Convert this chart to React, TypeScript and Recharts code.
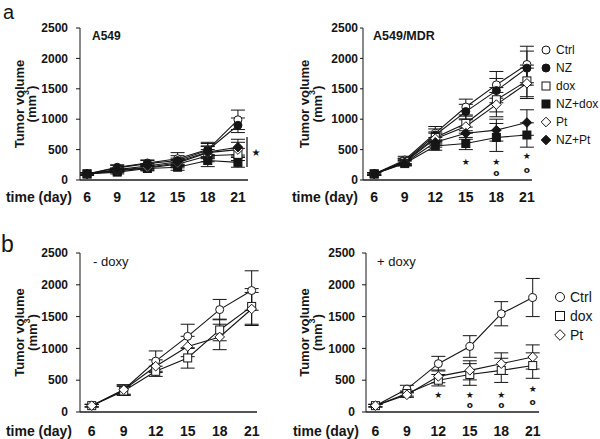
import { ComposedChart, Line, XAxis, YAxis, ErrorBar, Legend, ReferenceLine } from 'recharts'

const DAYS = [6, 9, 12, 15, 18, 21]
const Y_TICKS = [0, 500, 1000, 1500, 2000, 2500]

// a, A549
const a549Ctrl = [100, 210, 280, 350, 500, 990]
const a549CtrlErr = [20, 40, 50, 100, 120, 160]
const a549NZ = [100, 200, 270, 320, 490, 900]
const a549NZErr = [20, 40, 50, 80, 110, 120]
const a549Dox = [100, 150, 200, 260, 400, 420]
const a549DoxErr = [20, 30, 40, 60, 100, 100]
const a549NZDox = [100, 130, 190, 210, 320, 290]
const a549NZDoxErr = [20, 30, 40, 50, 100, 80]
const a549Pt = [100, 160, 210, 280, 450, 500]
const a549PtErr = [20, 30, 40, 60, 100, 120]
const a549NZPt = [100, 170, 230, 300, 460, 540]
const a549NZPtErr = [20, 30, 40, 60, 100, 130]

// a, A549/MDR
const mdrCtrl = [100, 330, 770, 1200, 1565, 1900]
const mdrCtrlErr = [20, 60, 110, 130, 220, 300]
const mdrNZ = [100, 310, 740, 1125, 1470, 1840]
const mdrNZErr = [20, 50, 100, 120, 200, 280]
const mdrDox = [100, 300, 700, 930, 1320, 1630]
const mdrDoxErr = [20, 50, 90, 120, 200, 260]
const mdrNZDox = [100, 270, 560, 600, 700, 740]
const mdrNZDoxErr = [20, 40, 70, 100, 230, 200]
const mdrPt = [100, 290, 680, 880, 1240, 1590]
const mdrPtErr = [20, 50, 90, 110, 200, 250]
const mdrNZPt = [100, 280, 620, 770, 820, 945]
const mdrNZPtErr = [20, 40, 80, 100, 180, 210]
const mdrStar = [null, null, null, 296, 296, 395]
const mdrCirc = [null, null, null, null, 110, 160]

// b, - doxy
const minusCtrl = [100, 350, 800, 1190, 1610, 1910]
const minusCtrlErr = [20, 80, 160, 190, 160, 310]
const minusDox = [100, 330, 640, 850, 1290, 1660]
const minusDoxErr = [20, 70, 80, 160, 170, 280]
const minusPt = [100, 350, 720, 1030, 1180, 1620]
const minusPtErr = [20, 70, 100, 160, 200, 260]

// b, + doxy
const plusCtrl = [100, 360, 760, 1030, 1545, 1800]
const plusCtrlErr = [20, 60, 115, 170, 190, 300]
const plusDox = [100, 290, 500, 590, 655, 730]
const plusDoxErr = [20, 40, 90, 170, 190, 200]
const plusPt = [100, 270, 560, 655, 760, 865]
const plusPtErr = [20, 40, 100, 150, 170, 190]
const plusStar = [null, null, 275, 275, 275, 365]
const plusCirc = [null, null, null, 110, 110, 155]

type Shape = 'circle' | 'square' | 'diamond'
type Series = { key: string; name: string; values: number[]; errors: number[]; shape: Shape; filled: boolean }

const FONT = '"Liberation Sans", Arial, sans-serif'
const INK = '#151515'

const seriesA549: Series[] = [
  { key: 'ctrl', name: 'Ctrl', values: a549Ctrl, errors: a549CtrlErr, shape: 'circle', filled: false },
  { key: 'nz', name: 'NZ', values: a549NZ, errors: a549NZErr, shape: 'circle', filled: true },
  { key: 'dox', name: 'dox', values: a549Dox, errors: a549DoxErr, shape: 'square', filled: false },
  { key: 'nzdox', name: 'NZ+dox', values: a549NZDox, errors: a549NZDoxErr, shape: 'square', filled: true },
  { key: 'pt', name: 'Pt', values: a549Pt, errors: a549PtErr, shape: 'diamond', filled: false },
  { key: 'nzpt', name: 'NZ+Pt', values: a549NZPt, errors: a549NZPtErr, shape: 'diamond', filled: true },
]
const seriesMDR: Series[] = [
  { key: 'ctrl', name: 'Ctrl', values: mdrCtrl, errors: mdrCtrlErr, shape: 'circle', filled: false },
  { key: 'nz', name: 'NZ', values: mdrNZ, errors: mdrNZErr, shape: 'circle', filled: true },
  { key: 'dox', name: 'dox', values: mdrDox, errors: mdrDoxErr, shape: 'square', filled: false },
  { key: 'nzdox', name: 'NZ+dox', values: mdrNZDox, errors: mdrNZDoxErr, shape: 'square', filled: true },
  { key: 'pt', name: 'Pt', values: mdrPt, errors: mdrPtErr, shape: 'diamond', filled: false },
  { key: 'nzpt', name: 'NZ+Pt', values: mdrNZPt, errors: mdrNZPtErr, shape: 'diamond', filled: true },
]
const seriesMinus: Series[] = [
  { key: 'ctrl', name: 'Ctrl', values: minusCtrl, errors: minusCtrlErr, shape: 'circle', filled: false },
  { key: 'dox', name: 'dox', values: minusDox, errors: minusDoxErr, shape: 'square', filled: false },
  { key: 'pt', name: 'Pt', values: minusPt, errors: minusPtErr, shape: 'diamond', filled: false },
]
const seriesPlus: Series[] = [
  { key: 'ctrl', name: 'Ctrl', values: plusCtrl, errors: plusCtrlErr, shape: 'circle', filled: false },
  { key: 'dox', name: 'dox', values: plusDox, errors: plusDoxErr, shape: 'square', filled: false },
  { key: 'pt', name: 'Pt', values: plusPt, errors: plusPtErr, shape: 'diamond', filled: false },
]

function Marker({ cx, cy, shape, filled, r = 4 }: { cx: number; cy: number; shape: Shape; filled: boolean; r?: number }) {
  const fill = filled ? INK : '#fff'
  if (shape === 'circle') return <circle cx={cx} cy={cy} r={r} fill={fill} stroke={INK} strokeWidth={1} />
  if (shape === 'square')
    return <rect x={cx - r} y={cy - r} width={2 * r} height={2 * r} fill={fill} stroke={INK} strokeWidth={1} />
  const d = r + 0.8
  return (
    <polygon
      points={`${cx},${cy - d} ${cx + d},${cy} ${cx},${cy + d} ${cx - d},${cy}`}
      fill={fill}
      stroke={INK}
      strokeWidth={1}
    />
  )
}

type PanelProps = {
  left: number
  top: number
  width: number
  height: number
  margin: { top: number; right: number; bottom: number; left: number }
  domain: [number, number]
  series: Series[]
  star?: (number | null)[]
  circ?: (number | null)[]
  yTickSize: number
  yTickMargin: number
  xTickMargin: number
  xAxisHeight: number
  timeGap: number
  yLabelX: [number, number]
  legend?: { left: number; top: number; rowH: number; fontSize: number; r: number }
  bar?: { x: number; y1: number; y2: number }
}

function Panel(p: PanelProps) {
  const rows = DAYS.map((day, i) => {
    const row: Record<string, number | null> = { day }
    p.series.forEach((s) => {
      row[s.key] = s.values[i]
      row[s.key + 'Err'] = s.errors[i]
    })
    row.star = p.star ? p.star[i] : null
    row.circ = p.circ ? p.circ[i] : null
    return row
  })

  const yLabel = (props: any) => {
    const vb = props.viewBox
    const cy = vb.y + vb.height / 2
    const [x1, x2] = p.yLabelX
    return (
      <g key="ylabel" fontFamily={FONT} fontWeight="bold" fontSize={13} fill={INK}>
        <text x={x1} y={cy} textAnchor="middle" dominantBaseline="central" transform={`rotate(-90, ${x1}, ${cy})`}>
          Tumor volume
        </text>
        <text x={x2} y={cy} textAnchor="middle" dominantBaseline="central" transform={`rotate(-90, ${x2}, ${cy})`}>
          <tspan>(mm</tspan>
          <tspan dy={-5} fontSize={9}>3</tspan>
          <tspan dy={5}>)</tspan>
        </text>
      </g>
    )
  }

  const xLabel = (props: any) => {
    const vb = props.viewBox
    return (
      <text
        key="xlabel"
        x={vb.x - p.timeGap}
        y={vb.y + p.xTickMargin + 10}
        textAnchor="end"
        fontFamily={FONT}
        fontWeight="bold"
        fontSize={14}
        fill={INK}
      >
        time (day)
      </text>
    )
  }

  const glyph = (ch: string, size: number, weight: string) => (d: any) =>
    d.cy == null || d.value == null ? (
      <g key={`${ch}-${d.index}`} />
    ) : (
      <text
        key={`${ch}-${d.index}`}
        x={d.cx}
        y={d.cy}
        textAnchor="middle"
        dominantBaseline="central"
        fontSize={size}
        fontWeight={weight}
        fontFamily='"DejaVu Sans", sans-serif'
        fill={INK}
      >
        {ch}
      </text>
    )

  return (
    <div style={{ position: 'absolute', left: p.left, top: p.top }}>
      <ComposedChart width={p.width} height={p.height} data={rows} margin={p.margin} style={{ fontFamily: FONT }}>
        <XAxis
          dataKey="day"
          type="number"
          domain={p.domain}
          ticks={DAYS}
          interval={0}
          height={p.xAxisHeight}
          axisLine={{ stroke: '#555', strokeWidth: 2 }}
          tickLine={false}
          tickSize={0}
          tickMargin={p.xTickMargin}
          tick={{ fontSize: 14, fontWeight: 'bold', fill: INK }}
          label={xLabel}
        />
        <YAxis
          type="number"
          domain={[0, 2500]}
          ticks={Y_TICKS}
          interval={0}
          width={50}
          axisLine={{ stroke: INK, strokeWidth: 1 }}
          tickLine={{ stroke: INK }}
          tickSize={p.yTickSize}
          tickMargin={p.yTickMargin}
          tick={{ fontSize: 12, fontWeight: 'bold', fill: INK }}
          label={yLabel}
        />
        {p.series.map((s) => (
          <Line
            key={s.key}
            dataKey={s.key}
            name={s.name}
            stroke={INK}
            strokeWidth={1.1}
            isAnimationActive={false}
            activeDot={false}
            dot={(d: any) => (
              <Marker key={`${s.key}-${d.index}`} cx={d.cx} cy={d.cy} shape={s.shape} filled={s.filled} />
            )}
          >
            <ErrorBar dataKey={s.key + 'Err'} width={7} stroke={INK} strokeWidth={1} direction="y" />
          </Line>
        ))}
        {p.star && (
          <Line dataKey="star" stroke="none" isAnimationActive={false} activeDot={false} legendType="none" dot={glyph('★', 9, 'normal')} />
        )}
        {p.circ && (
          <Line dataKey="circ" stroke="none" isAnimationActive={false} activeDot={false} legendType="none" dot={glyph('o', 9, 'bold')} />
        )}
        {p.bar && (
          <ReferenceLine
            segment={[
              { x: p.bar.x, y: p.bar.y1 },
              { x: p.bar.x, y: p.bar.y2 },
            ]}
            stroke="#666"
            strokeWidth={2}
            ifOverflow="visible"
            label={(props: any) => {
              const vb = props.viewBox
              return (
                <text
                  key="barstar"
                  x={vb.x + 9}
                  y={vb.y + vb.height / 2}
                  textAnchor="middle"
                  dominantBaseline="central"
                  fontSize={10}
                  fontFamily='"DejaVu Sans", sans-serif'
                  fill={INK}
                >
                  ★
                </text>
              )
            }}
          />
        )}
        {p.legend && (
          <Legend
            layout="vertical"
            align="center"
            verticalAlign="middle"
            wrapperStyle={{ left: p.legend.left, top: p.legend.top, width: 70 }}
            content={() => (
              <div style={{ fontFamily: FONT, fontSize: p.legend!.fontSize, color: INK, whiteSpace: 'nowrap' }}>
                {p.series.map((s) => (
                  <div key={s.key} style={{ display: 'flex', alignItems: 'center', height: p.legend!.rowH }}>
                    <svg width={12} height={12} style={{ marginRight: 4 }}>
                      <Marker cx={6} cy={6} shape={s.shape} filled={s.filled} r={p.legend!.r} />
                    </svg>
                    <span>{s.name}</span>
                  </div>
                ))}
              </div>
            )}
          />
        )}
      </ComposedChart>
    </div>
  )
}

export default function App() {
  return (
    <div style={{ position: 'absolute', left: 0, top: 0, width: 600, height: 439, background: '#fff' }}>
      <Panel
        left={0}
        top={0}
        width={300}
        height={220}
        margin={{ top: 28, right: 52, bottom: 10, left: 30 }}
        domain={[5.3, 22]}
        series={seriesA549}
        yTickSize={4}
        yTickMargin={8}
        xTickMargin={12}
        xAxisHeight={30}
        timeGap={8}
        yLabelX={[19, 31]}
        bar={{ x: 21.9, y1: 214, y2: 707 }}
      />
      <Panel
        left={280}
        top={0}
        width={320}
        height={220}
        margin={{ top: 28, right: 68, bottom: 10, left: 33 }}
        domain={[4.9, 21.5]}
        series={seriesMDR}
        star={mdrStar}
        circ={mdrCirc}
        yTickSize={3}
        yTickMargin={2}
        xTickMargin={12}
        xAxisHeight={30}
        timeGap={5}
        yLabelX={[24, 37]}
        legend={{ left: 260, top: 41, rowH: 18, fontSize: 12, r: 4 }}
      />
      <Panel
        left={0}
        top={220}
        width={300}
        height={219}
        margin={{ top: 33, right: 43, bottom: 7, left: 30 }}
        domain={[4.9, 21.5]}
        series={seriesMinus}
        yTickSize={4}
        yTickMargin={8}
        xTickMargin={14}
        xAxisHeight={20}
        timeGap={8}
        yLabelX={[19, 32]}
      />
      <Panel
        left={280}
        top={220}
        width={320}
        height={219}
        margin={{ top: 33, right: 61, bottom: 7, left: 36 }}
        domain={[5.1, 21.6]}
        series={seriesPlus}
        star={plusStar}
        circ={plusCirc}
        yTickSize={4}
        yTickMargin={7}
        xTickMargin={14}
        xAxisHeight={20}
        timeGap={7}
        yLabelX={[24, 37]}
        legend={{ left: 274, top: 67, rowH: 19, fontSize: 14, r: 4.5 }}
      />
      <svg width={600} height={439} style={{ position: 'absolute', left: 0, top: 0, pointerEvents: 'none' }}>
        <g fontFamily={FONT} fill={INK}>
          <text x={3} y={19} fontSize={20}>a</text>
          <text x={1} y={252} fontSize={23}>b</text>
          <text x={92} y={40} fontSize={12} fontWeight="bold">A549</text>
          <text x={373} y={40} fontSize={12.5} fontWeight="bold">A549/MDR</text>
          <text x={93} y={266} fontSize={13}>- doxy</text>
          <text x={377} y={266} fontSize={13}>+ doxy</text>
        </g>
      </svg>
    </div>
  )
}
